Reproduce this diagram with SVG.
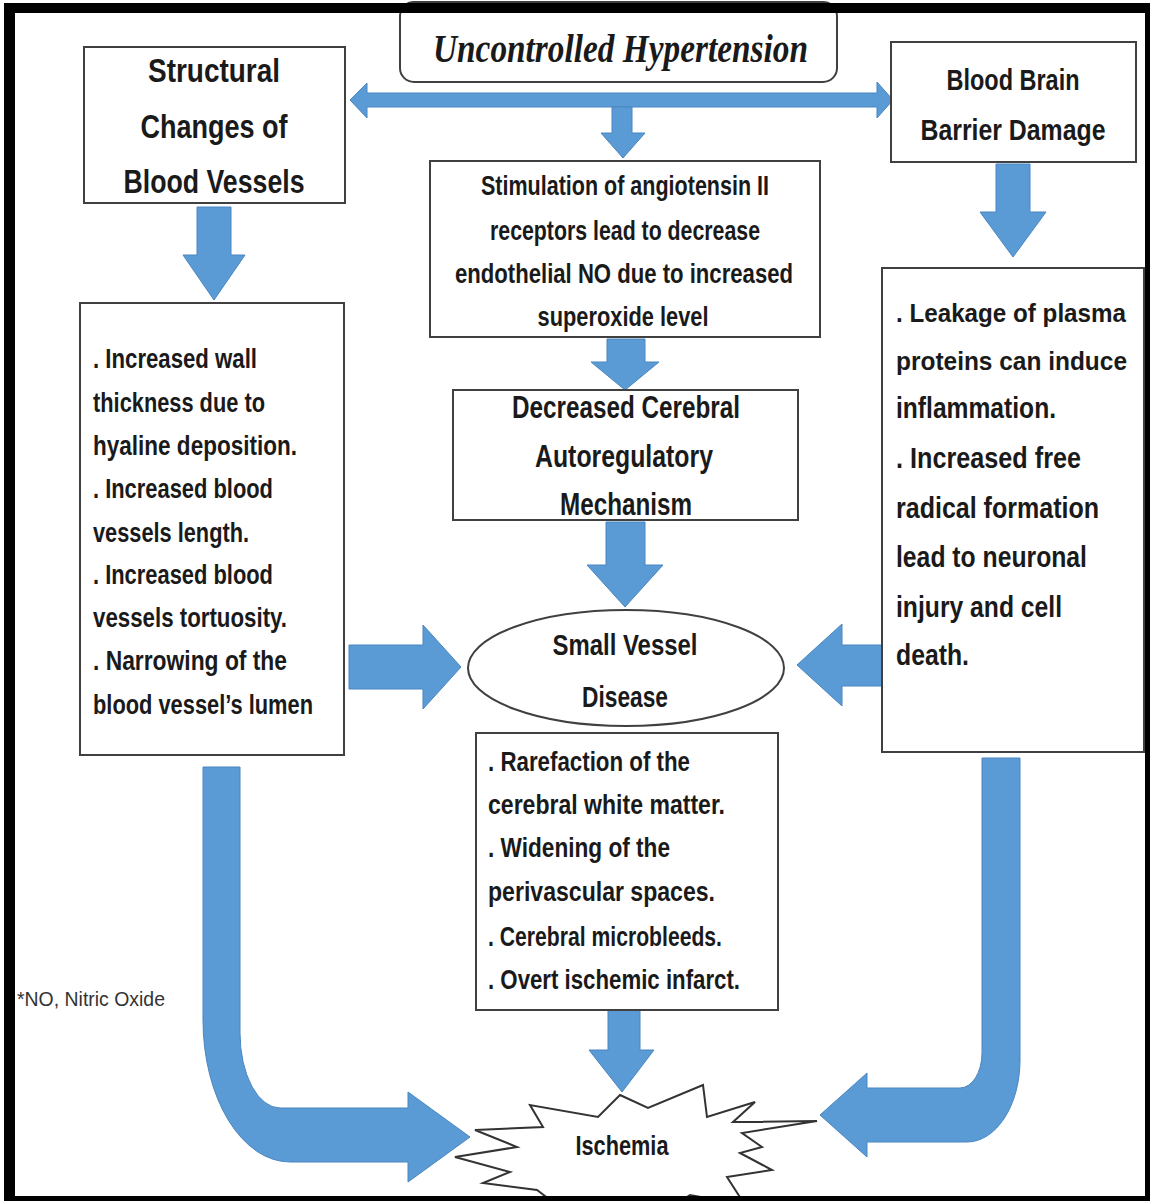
<svg xmlns="http://www.w3.org/2000/svg" width="1150" height="1201" viewBox="0 0 1150 1201">
<style>
  .box { fill: #ffffff; stroke: #404040; stroke-width: 2; }
  .arrow { fill: #5B9BD5; stroke: #4A86C0; stroke-width: 1; }
  .t { font-family: "Liberation Sans", Arial, sans-serif; font-weight: bold; fill: #1a1a1a; }
  .c { text-anchor: middle; }
  .title { font-family: "Liberation Serif", "Times New Roman", serif; font-weight: bold; font-style: italic; font-size: 40px; fill: #1a1a1a; }
  .note { font-family: "Liberation Sans", Arial, sans-serif; font-size: 21px; fill: #333333; }
</style>
<rect x="0" y="0" width="1150" height="1201" fill="#ffffff"/>

<g id="connectors">
  <polygon class="arrow" points="350,100 367,83 367,93 877,93 877,82 893,100 877,118 877,107 367,107 367,118"/>
  <polygon class="arrow" points="612,107 632,107 632,133 645,133 623,158 601,133 612,133"/>
  <polygon class="arrow" points="197,207 231,207 231,255 245,255 214,300 183,255 197,255"/>
  <polygon class="arrow" points="996,164 1030,164 1030,212 1046,212 1013,257 980,212 996,212"/>
  <polygon class="arrow" points="607,339 645,339 645,362 659,362 625,390 591,362 607,362"/>
  <polygon class="arrow" points="606,522 645,522 645,565 663,565 625,607 587,565 606,565"/>
  <polygon class="arrow" points="349,645 423,645 423,625 461,667 423,709 423,689 349,689"/>
  <polygon class="arrow" points="882,645 842,645 842,624 797,665 842,706 842,686 882,686"/>
  <polygon class="arrow" points="608,1010 640,1010 640,1050 654,1050 622,1092 589,1050 608,1050"/>
  <path class="arrow" d="M203,767 L240,767 L240,1033 A40,75 0 0 0 280,1108 L408,1108 L408,1092 L470,1137 L408,1182 L408,1162 L290,1162 A87,142 0 0 1 203,1020 Z"/>
  <path class="arrow" d="M982,758 L1020,758 L1020,1060 A53,82 0 0 1 967,1142 L867,1142 L867,1157 L820,1115 L867,1073 L867,1088 L960,1088 A22,35 0 0 0 982,1053 Z"/>
</g>

<g id="title">
  <rect class="box" x="400" y="2" width="437" height="80" rx="14" ry="14"/>
  <text class="title" x="433" y="62" textLength="375" lengthAdjust="spacingAndGlyphs">Uncontrolled Hypertension</text>
</g>

<g id="structural">
  <rect class="box" x="84" y="47" width="261" height="156"/>
  <text class="t c" font-size="33" x="214" y="82" textLength="132" lengthAdjust="spacingAndGlyphs">Structural</text>
  <text class="t c" font-size="33" x="214" y="138" textLength="147" lengthAdjust="spacingAndGlyphs">Changes of</text>
  <text class="t c" font-size="33" x="214" y="193" textLength="181" lengthAdjust="spacingAndGlyphs">Blood Vessels</text>
</g>

<g id="bbb">
  <rect class="box" x="891" y="42" width="245" height="120"/>
  <text class="t c" font-size="30" x="1013" y="90" textLength="133" lengthAdjust="spacingAndGlyphs">Blood Brain</text>
  <text class="t c" font-size="30" x="1013" y="140" textLength="185" lengthAdjust="spacingAndGlyphs">Barrier Damage</text>
</g>

<g id="stimulation">
  <rect class="box" x="430" y="161" width="390" height="176"/>
  <text class="t c" font-size="27" x="625" y="195" textLength="288" lengthAdjust="spacingAndGlyphs">Stimulation of angiotensin II</text>
  <text class="t c" font-size="27" x="625" y="240" textLength="270" lengthAdjust="spacingAndGlyphs">receptors lead to decrease</text>
  <text class="t c" font-size="27" x="624" y="283" textLength="338" lengthAdjust="spacingAndGlyphs">endothelial NO due to increased</text>
  <text class="t c" font-size="27" x="623" y="326" textLength="171" lengthAdjust="spacingAndGlyphs">superoxide level</text>
</g>

<g id="autoregulatory">
  <rect class="box" x="453" y="390" width="345" height="130"/>
  <text class="t c" font-size="31" x="626" y="418" textLength="228" lengthAdjust="spacingAndGlyphs">Decreased Cerebral</text>
  <text class="t c" font-size="31" x="624" y="467" textLength="178" lengthAdjust="spacingAndGlyphs">Autoregulatory</text>
  <text class="t c" font-size="31" x="626" y="515" textLength="132" lengthAdjust="spacingAndGlyphs">Mechanism</text>
</g>

<g id="structural-list">
  <rect class="box" x="80" y="303" width="264" height="452"/>
  <text class="t" font-size="27" x="93" y="368" textLength="164" lengthAdjust="spacingAndGlyphs">. Increased wall</text>
  <text class="t" font-size="27" x="93" y="412" textLength="172" lengthAdjust="spacingAndGlyphs">thickness due to</text>
  <text class="t" font-size="27" x="93" y="455" textLength="204" lengthAdjust="spacingAndGlyphs">hyaline deposition.</text>
  <text class="t" font-size="27" x="93" y="498" textLength="180" lengthAdjust="spacingAndGlyphs">. Increased blood</text>
  <text class="t" font-size="27" x="93" y="542" textLength="156" lengthAdjust="spacingAndGlyphs">vessels length.</text>
  <text class="t" font-size="27" x="93" y="584" textLength="180" lengthAdjust="spacingAndGlyphs">. Increased blood</text>
  <text class="t" font-size="27" x="93" y="627" textLength="194" lengthAdjust="spacingAndGlyphs">vessels tortuosity.</text>
  <text class="t" font-size="27" x="93" y="670" textLength="194" lengthAdjust="spacingAndGlyphs">. Narrowing of the</text>
  <text class="t" font-size="27" x="93" y="714" textLength="220" lengthAdjust="spacingAndGlyphs">blood vessel’s lumen</text>
</g>

<g id="bbb-list">
  <rect class="box" x="882" y="268" width="262" height="484"/>
  <text class="t" font-size="26" x="896" y="322" textLength="230" lengthAdjust="spacingAndGlyphs">. Leakage of plasma</text>
  <text class="t" font-size="26" x="896" y="370" textLength="231" lengthAdjust="spacingAndGlyphs">proteins can induce</text>
  <text class="t" font-size="29" x="896" y="418" textLength="160" lengthAdjust="spacingAndGlyphs">inflammation.</text>
  <text class="t" font-size="29" x="896" y="468" textLength="185" lengthAdjust="spacingAndGlyphs">. Increased free</text>
  <text class="t" font-size="29" x="896" y="518" textLength="203" lengthAdjust="spacingAndGlyphs">radical formation</text>
  <text class="t" font-size="29" x="896" y="567" textLength="191" lengthAdjust="spacingAndGlyphs">lead to neuronal</text>
  <text class="t" font-size="29" x="896" y="617" textLength="166" lengthAdjust="spacingAndGlyphs">injury and cell</text>
  <text class="t" font-size="29" x="896" y="665" textLength="73" lengthAdjust="spacingAndGlyphs">death.</text>
</g>

<g id="svd">
  <ellipse class="box" cx="626" cy="668" rx="158" ry="58"/>
  <text class="t c" font-size="30" x="625" y="655" textLength="145" lengthAdjust="spacingAndGlyphs">Small Vessel</text>
  <text class="t c" font-size="30" x="625" y="707" textLength="86" lengthAdjust="spacingAndGlyphs">Disease</text>
</g>

<g id="svd-list">
  <rect class="box" x="476" y="733" width="302" height="277"/>
  <text class="t" font-size="27" x="488" y="771" textLength="202" lengthAdjust="spacingAndGlyphs">. Rarefaction of the</text>
  <text class="t" font-size="27" x="488" y="814" textLength="237" lengthAdjust="spacingAndGlyphs">cerebral white matter.</text>
  <text class="t" font-size="27" x="488" y="857" textLength="182" lengthAdjust="spacingAndGlyphs">. Widening of the</text>
  <text class="t" font-size="27" x="488" y="901" textLength="227" lengthAdjust="spacingAndGlyphs">perivascular spaces.</text>
  <text class="t" font-size="27" x="488" y="946" textLength="234" lengthAdjust="spacingAndGlyphs">. Cerebral microbleeds.</text>
  <text class="t" font-size="27" x="488" y="989" textLength="252" lengthAdjust="spacingAndGlyphs">. Overt ischemic infarct.</text>
</g>

<g id="ischemia">
  <polygon fill="#ffffff" stroke="#333333" stroke-width="2" stroke-linejoin="miter" points="620,1095 648,1108 703,1085 707,1117 755,1102 733,1122 817,1121 742,1133 762,1147 740,1153 772,1170 727,1177 745,1205 690,1195 660,1215 620,1200 570,1215 537,1190 483,1183 510,1172 455,1157 517,1147 475,1130 543,1127 530,1105 598,1117"/>
  <text class="t c" font-size="27" x="622" y="1155" textLength="93" lengthAdjust="spacingAndGlyphs">Ischemia</text>
</g>

<g id="footnote">
  <text class="note" x="17" y="1006" textLength="148" lengthAdjust="spacingAndGlyphs">*NO, Nitric Oxide</text>
</g>

<g id="frame">
  <path fill="#000000" fill-rule="evenodd" d="M4,3 H1150 V1201 H4 Z M15,13 V1196 H1145 V13 Z"/>
</g>
</svg>
